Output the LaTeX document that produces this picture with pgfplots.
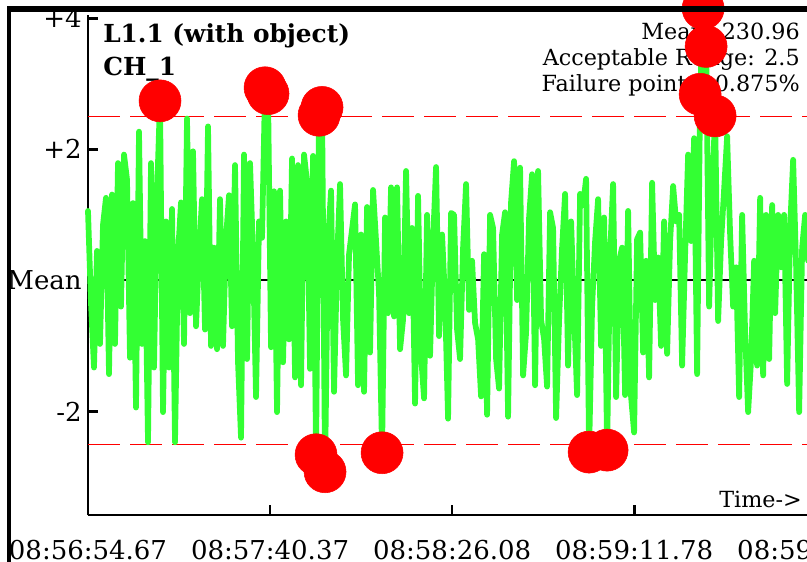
\documentclass[border=0pt]{standalone}
\usepackage{pgfplots}
\usepackage{pgfplotstable}
\pgfplotsset{compat=1.18}
\usepackage{fontspec}
\setmainfont{DejaVu Serif}
\definecolor{sigGreen}{RGB}{51,255,51}

% one sample every 0.7532 s (about 3 px in the reference)
\pgfplotstableread{
v
1.06
-0.35
-1.33
0.45
-0.97
0.85
1.26
-1.43
1.31
-0.97
1.79
-0.40
1.92
1.54
-1.18
1.18
-1.94
2.27
-0.97
0.60
-2.47
1.79
-1.33
1.33
2.74
-2.01
0.90
-1.33
1.09
-2.47
0.40
1.19
-0.97
2.47
-0.50
1.97
-0.70
0.40
1.24
-0.75
2.35
-1.00
0.50
-1.05
1.24
-1.00
0.65
1.30
-0.70
1.76
-1.25
-2.40
1.92
-1.20
1.79
0.40
-1.78
0.90
0.65
2.94
2.85
-1.02
1.36
-2.01
1.37
-1.25
0.90
-0.90
1.86
-1.48
1.76
-1.60
1.92
1.50
-1.35
1.90
-2.66
2.52
2.64
-2.92
0.60
1.37
-1.70
0.30
1.47
-0.60
-1.45
0.40
0.78
1.16
-1.60
0.70
-1.70
1.12
-1.10
1.38
0.60
-0.20
-2.63
0.96
-0.50
1.42
-0.55
1.42
-1.05
-0.60
1.67
-0.50
0.80
-1.88
1.29
-1.15
-1.80
1.00
-1.15
0.60
1.73
-0.85
0.70
-0.30
-2.11
1.03
1.00
-0.75
-1.20
0.50
1.47
-0.45
0.30
-0.65
-0.90
-1.77
0.40
-2.05
1.00
0.80
-1.20
-1.65
0.70
1.04
-2.08
1.20
1.82
-0.30
1.72
-1.45
-0.80
0.96
1.62
-1.60
1.67
-0.60
-0.90
-1.62
1.04
0.80
-2.10
-0.60
0.50
1.32
-1.30
0.90
-0.50
-1.75
1.32
1.15
1.55
-2.62
-0.40
0.60
1.24
-1.00
0.96
-2.59
0.40
1.47
-1.78
0.30
0.50
-1.75
1.06
-1.78
-2.32
0.63
0.73
-1.10
0.30
-1.48
1.49
-0.30
0.35
-1.00
0.90
-1.12
0.60
1.44
0.90
1.00
-1.30
0.40
1.92
0.60
2.17
-1.43
2.84
4.15
3.57
-0.40
1.40
2.51
-0.62
0.60
1.39
2.20
0.70
-0.40
0.20
-1.78
1.00
-0.80
-2.01
-1.20
0.30
-1.30
1.26
-1.45
1.00
-1.20
1.15
-0.50
1.00
0.20
1.00
-1.58
0.80
1.84
0.20
-2.01
0.50
1.00
0.30
}\sigdata

\begin{document}
\begin{tikzpicture}
\useasboundingbox (0,0) rectangle (605.25pt,-420.75pt);
\clip (0,0) rectangle (605.25pt,-420.75pt);
\fill[white] (0,0) rectangle (605.25pt,-420.75pt);

% texts first, the failure marks cover them
\begin{scope}[x=0.75pt,y=-0.75pt]
  \node[anchor=base west, inner sep=0pt, font=\fontsize{18.6}{22}\selectfont\bfseries] at (103,42) {L1.1 (with object)};
  \node[anchor=base west, inner sep=0pt, font=\fontsize{18.6}{22}\selectfont\bfseries] at (103,75) {CH\_1};
  \node[anchor=base east, inner sep=0pt, font=\fontsize{16.7}{20}\selectfont] at (800,39) {Mean: 230.96};
  \node[anchor=base east, inner sep=0pt, font=\fontsize{16.7}{20}\selectfont] at (800,65) {Acceptable Range: 2.5};
  \node[anchor=base east, inner sep=0pt, font=\fontsize{16.7}{20}\selectfont] at (800,91) {Failure points: 0.875\%};
  \node[anchor=base east, inner sep=0pt, font=\fontsize{16.7}{20}\selectfont] at (802,507) {Time->};
\end{scope}

\begin{axis}[
    at={(66pt,-386.25pt)}, anchor=south west,
    width=552.75pt, height=375pt, scale only axis,
    xmin=0, xmax=185, ymin=-3.58, ymax=4.05,
    axis x line=bottom, axis y line=left,
    axis line style={-, line width=1.5pt, black},
    xtick={0,45.70,91.41,137.11,182.81},
    xticklabels={08:56:54.67,08:57:40.37,08:58:26.08,08:59:11.78,08:59:57.48},
    ytick={-2,0,2,4},
    yticklabels={-2,Mean,+2,+4},
    tick align=inside, major tick length=7.5pt,
    tick style={line width=2pt, black},
    ticklabel style={font=\fontsize{19.5}{23}\selectfont},
    xticklabel style={anchor=base, inner sep=0pt, yshift=-33pt},
    yticklabel style={anchor=east, inner sep=0pt, xshift=-4.5pt},
    clip=false,
]
\addplot[black, line width=1.5pt] coordinates {(0,0) (185,0)};
\addplot[red, line width=1.1pt, dash pattern=on 24pt off 7.5pt] coordinates {(0,2.5) (185,2.5)};
\addplot[red, line width=1.1pt, dash pattern=on 24pt off 7.5pt] coordinates {(0,-2.5) (185,-2.5)};
\addplot[sigGreen, line width=4.3pt, line join=round, line cap=round]
    table[x expr=\coordindex*0.7532, y=v] {\sigdata};
\addplot[only marks, mark=*, mark size=15.75pt, color=red, mark options={fill=red, draw=none}]
    coordinates {
    (18.077,2.74) (44.439,2.94) (45.192,2.85) (57.243,-2.66) (57.996,2.52)
    (58.750,2.64) (59.503,-2.92) (73.814,-2.63) (125.784,-2.62) (130.304,-2.59)
    (153.653,2.84) (154.406,4.15) (155.159,3.57) (157.419,2.51)
    };
\end{axis}

% outer frame on top
\begin{scope}[x=0.75pt,y=-0.75pt]
  \draw[black, line width=4.5pt] (7,9) -- (820,9);
  \draw[black, line width=3pt] (9,7) -- (9,570);
\end{scope}
\end{tikzpicture}
\end{document}
